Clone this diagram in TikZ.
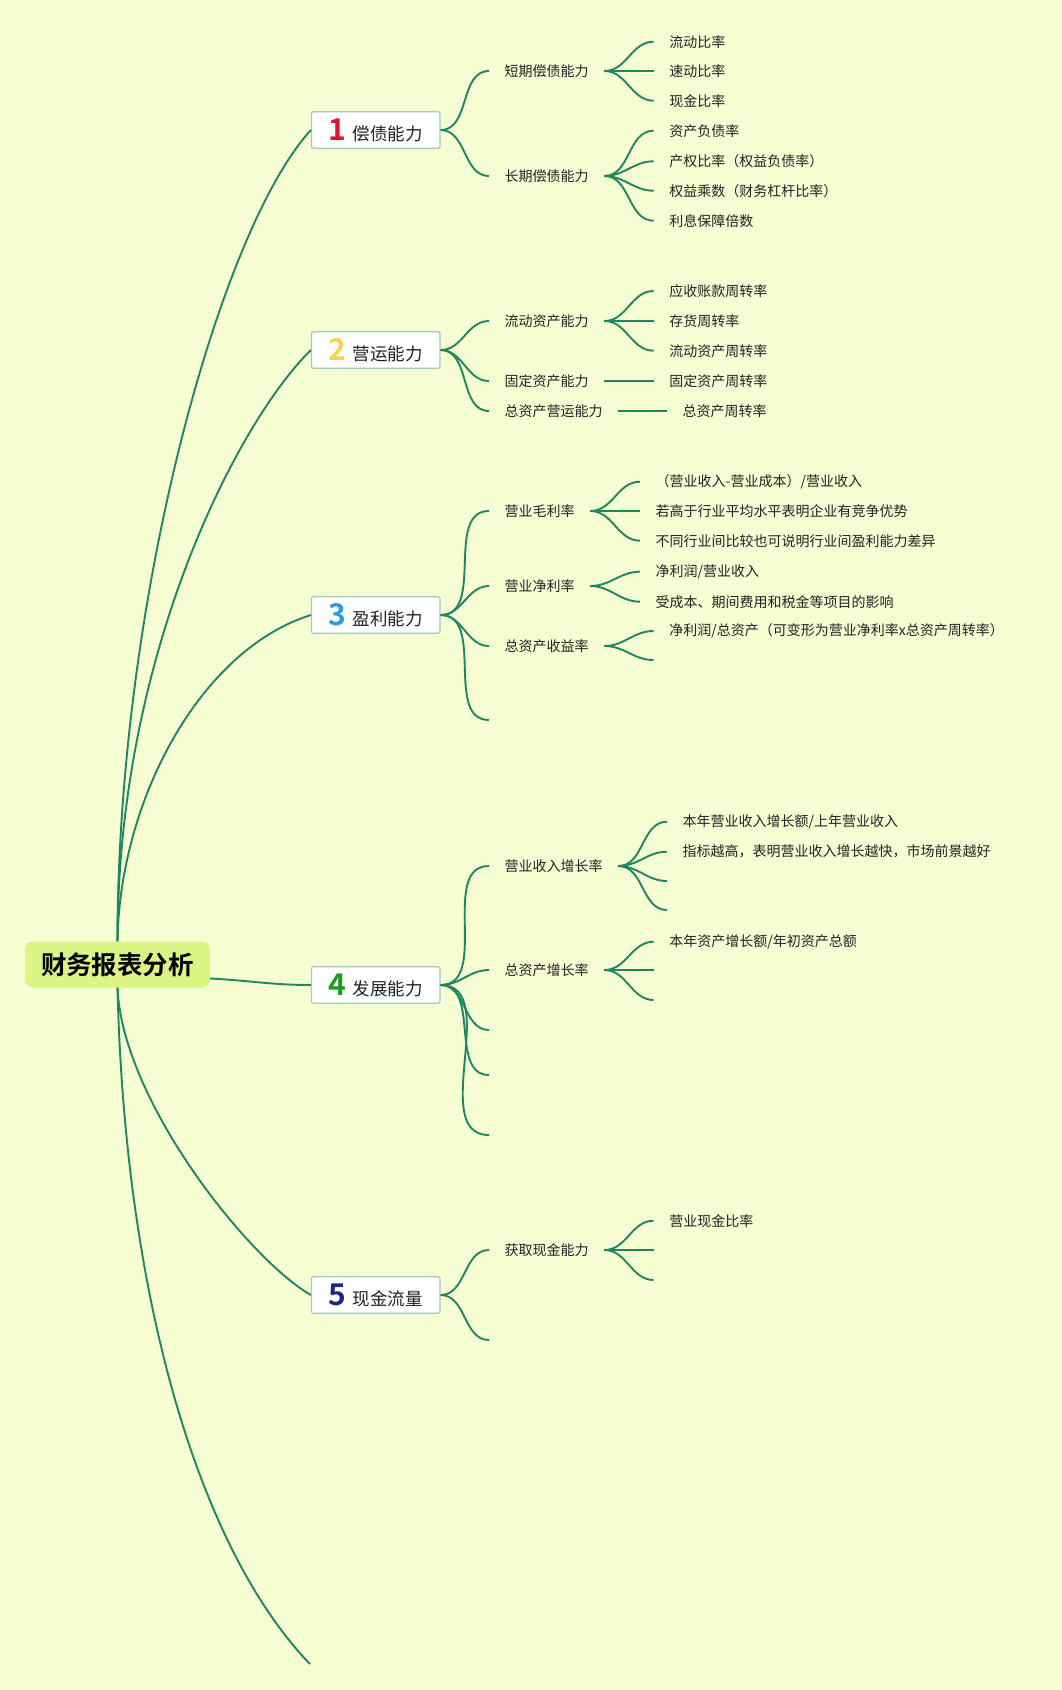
\documentclass[tikz,border=0pt]{standalone}
\usepackage{fontspec}
\setmainfont{Noto Sans CJK SC}[BoldFont={Noto Sans CJK SC Bold}]
\definecolor{paper}{HTML}{F6FDD3}
\definecolor{branch}{HTML}{1E875F}
\definecolor{boxline}{HTML}{A3C9BA}
\definecolor{rootfill}{HTML}{DDF383}
\definecolor{ink}{HTML}{222222}
\definecolor{num1}{HTML}{E3112F}
\definecolor{num2}{HTML}{F5D547}
\definecolor{num3}{HTML}{2E9BE0}
\definecolor{num4}{HTML}{1E9A23}
\definecolor{num5}{HTML}{1C2880}
\newcommand\catnum[2]{{\color{#1}\fontsize{30}{30}\selectfont\bfseries #2}\hspace{6pt}}
\begin{document}
\begin{tikzpicture}[x=1pt, y=-1pt,
					link/.style={draw=branch, line width=1.9pt},
					root/.style={fill=rootfill, rounded corners=8pt, minimum width=185pt, minimum height=46pt, inner sep=0pt, text=black, font=\fontsize{25.5}{28}\selectfont\bfseries},
					cat/.style={draw=boxline, line width=1.2pt, fill=white, rounded corners=2pt, minimum width=128.5pt, minimum height=36.5pt, inner sep=0pt, text=ink, font=\fontsize{17.5}{20}\selectfont},
					sub/.style={anchor=west, inner xsep=15.5pt, inner ysep=2pt, text=ink, font=\fontsize{14}{16}\selectfont},
					leaf/.style={anchor=west, inner xsep=15.5pt, inner ysep=2pt, text=ink, font=\fontsize{14}{16}\selectfont}]
\useasboundingbox (0,0) rectangle (1062,1690);
\fill[paper] (0,0) rectangle (1062,1690);

\node[root] (root) at (117.5,964.5) {财务报表分析};

\node[cat] (sol) at (375.75,130) {\catnum{num1}{1}偿债能力};
\node[cat] (ope) at (375.75,350) {\catnum{num2}{2}营运能力};
\node[cat] (pro) at (375.75,615) {\catnum{num3}{3}盈利能力};
\node[cat] (dev) at (375.75,985) {\catnum{num4}{4}发展能力};
\node[cat] (cas) at (375.75,1295) {\catnum{num5}{5}现金流量};
\coordinate (root-end) at (310,1664);

\node[sub] (sol-short) at (489,71) {短期偿债能力};
\node[sub] (sol-long) at (489,176) {长期偿债能力};
\node[sub] (ope-cur) at (489,321) {流动资产能力};
\node[sub] (ope-fix) at (489,381) {固定资产能力};
\node[sub] (ope-tot) at (489,411) {总资产营运能力};
\node[sub] (pro-gross) at (489,511) {营业毛利率};
\node[sub] (pro-net) at (489,586) {营业净利率};
\node[sub] (pro-roa) at (489,646) {总资产收益率};
\coordinate (pro-end) at (489,720);
\node[sub] (dev-rev) at (489,866) {营业收入增长率};
\node[sub] (dev-ast) at (489,970) {总资产增长率};
\coordinate (dev-end1) at (489,1030);
\coordinate (dev-end2) at (489,1075);
\coordinate (dev-end3) at (489,1135);
\node[sub] (cas-get) at (489,1250) {获取现金能力};
\coordinate (cas-end) at (489,1340);

\node[leaf] (sol-short-1) at (653.6,41.7) {流动比率};
\node[leaf] (sol-short-2) at (653.6,71) {速动比率};
\node[leaf] (sol-short-3) at (653.6,100.7) {现金比率};
\node[leaf] (sol-long-1) at (653.6,130.7) {资产负债率};
\node[leaf] (sol-long-2) at (653.6,161.3) {产权比率（权益负债率）};
\node[leaf] (sol-long-3) at (653.6,190.7) {权益乘数（财务杠杆比率）};
\node[leaf] (sol-long-4) at (653.6,220.7) {利息保障倍数};

\node[leaf] (ope-cur-1) at (653.6,291) {应收账款周转率};
\node[leaf] (ope-cur-2) at (653.6,321) {存货周转率};
\node[leaf] (ope-cur-3) at (653.6,350.7) {流动资产周转率};
\node[leaf] (ope-fix-1) at (653.6,381) {固定资产周转率};
\node[leaf] (ope-tot-1) at (667,411) {总资产周转率};

\node[leaf] (pro-gross-1) at (640,481.7) {（营业收入-营业成本）/营业收入};
\node[leaf] (pro-gross-2) at (640,511) {若高于行业平均水平表明企业有竞争优势};
\node[leaf] (pro-gross-3) at (640,540.7) {不同行业间比较也可说明行业间盈利能力差异};
\node[leaf] (pro-net-1) at (640,571.7) {净利润/营业收入};
\node[leaf] (pro-net-2) at (640,601.7) {受成本、期间费用和税金等项目的影响};
\node[leaf] (pro-roa-1) at (653.6,631) {净利润/总资产（可变形为营业净利率x总资产周转率）};
\coordinate (pro-roa-2) at (653.6,660);

\node[leaf] (dev-rev-1) at (667,821.7) {本年营业收入增长额/上年营业收入};
\node[leaf] (dev-rev-2) at (667,851.7) {指标越高，表明营业收入增长越快，市场前景越好};
\coordinate (dev-rev-3) at (667,881);
\coordinate (dev-rev-4) at (667,910);
\node[leaf] (dev-ast-1) at (653.6,941.7) {本年资产增长额/年初资产总额};
\coordinate (dev-ast-2) at (653.6,970);
\coordinate (dev-ast-3) at (653.6,1000);

\node[leaf] (cas-get-1) at (653.6,1220.7) {营业现金比率};
\coordinate (cas-get-2) at (653.6,1250);
\coordinate (cas-get-3) at (653.6,1280);

\draw[link] (root.north) .. controls +(0,-340) and +(-91.5,100) .. (sol.west);
\draw[link] (root.north) .. controls +(0,-290) and +(-71.5,70) .. (ope.west);
\draw[link] (root.north) .. controls +(2,-140) and +(-111.5,35) .. (pro.west);
\draw[link] ([yshift=-14pt]root.east) .. controls +(40,2) and +(-40,0) .. (dev.west);
\draw[link] (root.south) .. controls +(4.5,113) and +(-61.5,-35) .. (cas.west);
\draw[link] (root.south) .. controls +(7.5,313) and +(-110,-114) .. (root-end);

\foreach \s in {sol-short,sol-long}
	\draw[link] (sol) to[out=0,in=180] (\s);
\foreach \s in {ope-cur,ope-fix,ope-tot}
	\draw[link] (ope) to[out=0,in=180] (\s);
\foreach \s in {pro-gross,pro-net,pro-roa,pro-end}
	\draw[link] (pro) to[out=0,in=180] (\s);
\foreach \s in {dev-rev,dev-ast,dev-end1,dev-end2,dev-end3}
	\draw[link] (dev) to[out=0,in=180] (\s);
\foreach \s in {cas-get,cas-end}
	\draw[link] (cas) to[out=0,in=180] (\s);

\foreach \k in {1,2,3}
	\draw[link] (sol-short) to[out=0,in=180] (sol-short-\k);
\foreach \k in {1,2,3,4}
	\draw[link] (sol-long) to[out=0,in=180] (sol-long-\k);
\foreach \k in {1,2,3}
	\draw[link] (ope-cur) to[out=0,in=180] (ope-cur-\k);
\draw[link] (ope-fix) -- (ope-fix-1);
\draw[link] (ope-tot) -- (ope-tot-1);
\foreach \k in {1,2,3}
	\draw[link] (pro-gross) to[out=0,in=180] (pro-gross-\k);
\foreach \k in {1,2}
	\draw[link] (pro-net) to[out=0,in=180] (pro-net-\k);
\foreach \k in {1,2}
	\draw[link] (pro-roa) to[out=0,in=180] (pro-roa-\k);
\foreach \k in {1,2,3,4}
	\draw[link] (dev-rev) to[out=0,in=180] (dev-rev-\k);
\foreach \k in {1,2,3}
	\draw[link] (dev-ast) to[out=0,in=180] (dev-ast-\k);
\foreach \k in {1,2,3}
	\draw[link] (cas-get) to[out=0,in=180] (cas-get-\k);
\end{tikzpicture}
\end{document}
